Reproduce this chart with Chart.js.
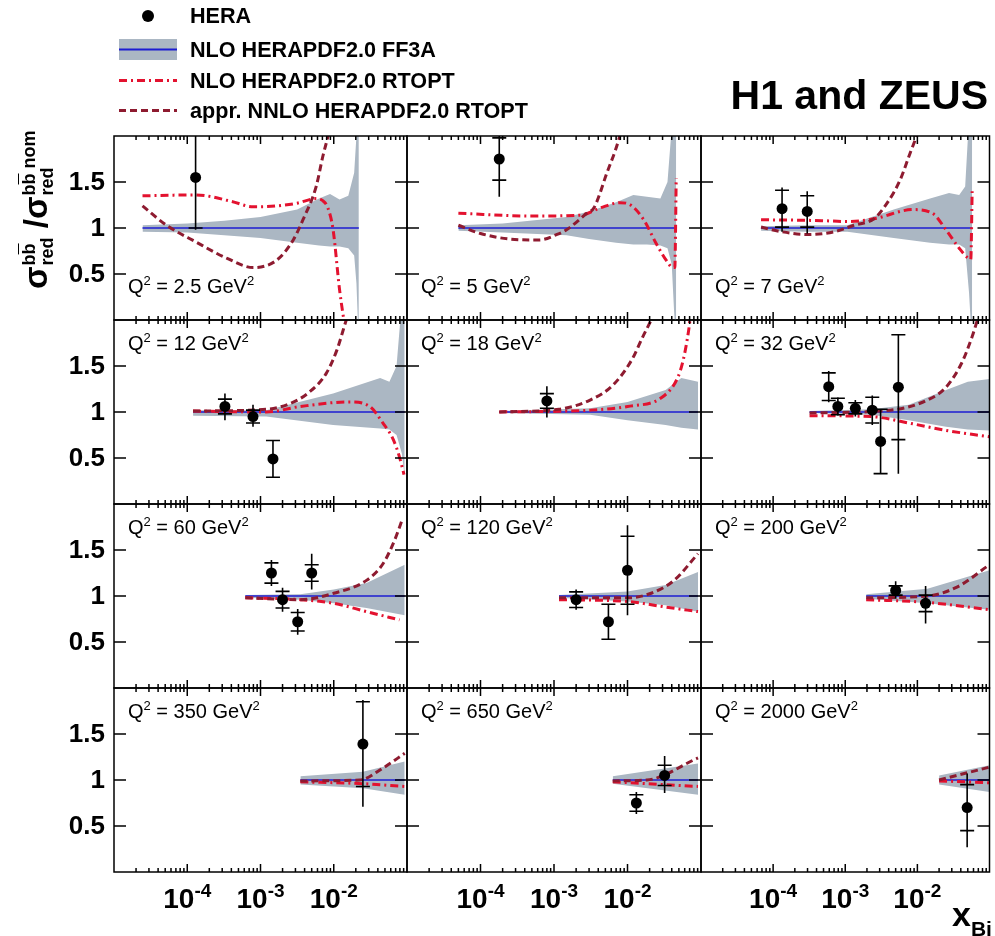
<!DOCTYPE html>
<html><head><meta charset="utf-8">
<script src="https://cdn.jsdelivr.net/npm/chart.js@4.4.0/dist/chart.umd.min.js"></script>
<style>
html,body{margin:0;padding:0;background:#fff;}
#wrap{position:relative;width:995px;height:936px;overflow:hidden;font-family:"Liberation Sans",Arial,sans-serif;color:#000;}
#wrap canvas{position:absolute;left:0;top:0;}
.leg{position:absolute;left:190px;font-weight:bold;font-size:21.6px;line-height:1;white-space:nowrap;}
#h1z{position:absolute;right:7px;top:75px;font-weight:bold;font-size:41px;line-height:1;white-space:nowrap;}
#xbj{position:absolute;left:952px;top:897px;font-weight:bold;font-size:34px;line-height:1;white-space:nowrap;}
#xbj span{font-size:21px;position:relative;top:10px;}
#ytitle{position:absolute;left:16px;top:289px;transform-origin:0 0;transform:rotate(-90deg);font-weight:bold;font-size:33px;line-height:40px;white-space:nowrap;}
#ytitle .ss{display:inline-block;vertical-align:middle;font-size:18px;line-height:18px;margin-left:1px;}
#ytitle .sp,#ytitle .sb{display:block;}
#ytitle .ob{text-decoration:overline;}
#legsym{position:absolute;left:0;top:0;}
</style></head><body>
<div id="wrap">
<svg id="legsym" width="200" height="130">
 <circle cx="148" cy="16" r="6" fill="#000"/>
 <rect x="119" y="39" width="58" height="21" fill="#abb7c3"/>
 <line x1="119" y1="49.5" x2="177" y2="49.5" stroke="#1c1cd2" stroke-width="2"/>
 <line x1="119" y1="80.5" x2="177" y2="80.5" stroke="#e3122f" stroke-width="3" stroke-dasharray="8 4 2 4"/>
 <line x1="119" y1="110.5" x2="177" y2="110.5" stroke="#8e1b30" stroke-width="3" stroke-dasharray="7 4"/>
</svg>
<div class="leg" style="top:5px">HERA</div>
<div class="leg" style="top:39px">NLO HERAPDF2.0 FF3A</div>
<div class="leg" style="top:70px">NLO HERAPDF2.0 RTOPT</div>
<div class="leg" style="top:100px">appr. NNLO HERAPDF2.0 RTOPT</div>
<div id="h1z">H1 and ZEUS</div>
<div id="ytitle">σ<span class="ss"><span class="sp">b<span class="ob">b</span></span><span class="sb">red</span></span> /σ<span class="ss"><span class="sp">b<span class="ob">b</span> nom</span><span class="sb">red</span></span></div>
<div id="xbj">x<span>Bj</span></div>
</div>
<script>
// ---------------- data ----------------
const q2Labels = ['2.5','5','7','12','18','32','60','120','200','350','650','2000'];
const xTickVals = [1e-4, 1e-3, 1e-2];
const xTickExp = ['-4', '-3', '-2'];
const yTickVals = [0.5, 1, 1.5];
const yTickLabels = ['0.5', '1', '1.5'];
const nominal = 1;

const heraX = [
 [1.3e-4],
 [1.8e-4],
 [1.33e-4, 2.97e-4],
 [3.27e-4, 7.9e-4, 1.48e-3],
 [8.0e-4],
 [5.9e-4, 7.9e-4, 1.38e-3, 2.37e-3, 3.09e-3, 5.45e-3],
 [1.41e-3, 2.0e-3, 3.22e-3, 5.0e-3],
 [2.0e-3, 5.5e-3, 1.0e-2],
 [5.0e-3, 1.3e-2],
 [2.5e-2],
 [1.32e-2, 3.2e-2],
 [4.9e-2]
];
const heraY = [
 [1.55],
 [1.75],
 [1.21, 1.18],
 [1.06, 0.95, 0.49],
 [1.12],
 [1.275, 1.06, 1.04, 1.02, 0.68, 1.27],
 [1.25, 0.96, 0.72, 1.25],
 [0.96, 0.72, 1.28],
 [1.06, 0.92],
 [1.39],
 [0.75, 1.05],
 [0.70]
];
const heraStat = [
 [0.55],
 [0.23],
 [0.2, 0.17],
 [0.08, 0.07, 0.2],
 [0.08],
 [0.15, 0.09, 0.06, 0.14, 0.35, 0.57],
 [0.11, 0.09, 0.1, 0.09],
 [0.085, 0.19, 0.37],
 [0.05, 0.09],
 [0.46],
 [0.09, 0.11],
 [0.25]
];
const heraTotUp = [
 [0.6],
 [0.42],
 [0.23, 0.22],
 [0.14, 0.13, 0.2],
 [0.16],
 [0.17, 0.1, 0.09, 0.16, 0.35, 0.57],
 [0.14, 0.13, 0.14, 0.21],
 [0.11, 0.19, 0.49],
 [0.1, 0.19],
 [0.48],
 [0.12, 0.21],
 [0.37]
];
const heraTotDn = [
 [0.57],
 [0.41],
 [0.25, 0.24],
 [0.15, 0.11, 0.2],
 [0.18],
 [0.17, 0.1, 0.09, 0.16, 0.35, 0.94],
 [0.14, 0.13, 0.14, 0.18],
 [0.11, 0.19, 0.49],
 [0.09, 0.22],
 [0.68],
 [0.12, 0.19],
 [0.43]
];

const bandX = [
 [2.45e-5, 1e-4, 3.2e-4, 1e-3, 3.16e-3, 6.3e-3, 8.9e-3, 1.2e-2, 1.58e-2, 1.9e-2, 2.04e-2, 2.12e-2, 2.2e-2],
 [5e-5, 2e-4, 1.48e-3, 3e-3, 7e-3, 1.2e-2, 1.84e-2, 2.8e-2, 3.5e-2, 4.0e-2, 4.3e-2, 4.6e-2],
 [6.8e-5, 3e-4, 1.07e-3, 4.7e-3, 1.5e-2, 2.75e-2, 3.8e-2, 4.6e-2, 5.2e-2, 5.75e-2],
 [1.2e-4, 1.2e-3, 9.8e-3, 4.3e-2, 5.75e-2, 7.2e-2, 8.5e-2, 9.3e-2],
 [1.8e-4, 3.1e-3, 1e-2, 3.3e-2, 5.4e-2, 9.1e-2],
 [3.2e-4, 2.3e-3, 7.6e-3, 2.5e-2, 5e-2, 0.1],
 [6.2e-4, 3.5e-3, 1e-2, 2.8e-2, 9.3e-2],
 [1.17e-3, 1e-2, 3.3e-2, 9.1e-2],
 [1.95e-3, 1.38e-2, 0.1],
 [3.5e-3, 2.5e-2, 9.3e-2],
 [6.3e-3, 9.1e-2],
 [2.0e-2, 0.1]
];
const bandHi = [
 [1.03, 1.05, 1.08, 1.12, 1.2, 1.32, 1.37, 1.31, 1.35, 1.6, 2.0, 2.3, 2.5],
 [1.03, 1.05, 1.12, 1.18, 1.28, 1.36, 1.34, 1.32, 1.5, 2.1, 2.5, 2.6],
 [1.02, 1.03, 1.03, 1.20, 1.32, 1.38, 1.36, 1.45, 2.2, 2.6],
 [1.02, 1.02, 1.20, 1.37, 1.33, 1.5, 2.2, 2.5],
 [1.01, 1.04, 1.11, 1.24, 1.37, 1.33],
 [1.01, 1.03, 1.08, 1.24, 1.33, 1.36],
 [1.01, 1.02, 1.07, 1.14, 1.34],
 [1.01, 1.05, 1.12, 1.26],
 [1.02, 1.08, 1.28],
 [1.04, 1.09, 1.20],
 [1.04, 1.18],
 [1.05, 1.16]
];
const bandLo = [
 [0.96, 0.95, 0.92, 0.89, 0.84, 0.81, 0.80, 0.80, 0.78, 0.7, 0.4, 0.05, -0.3],
 [0.97, 0.95, 0.92, 0.88, 0.84, 0.82, 0.82, 0.81, 0.78, 0.6, 0.1, -0.3],
 [0.97, 0.96, 0.96, 0.89, 0.84, 0.82, 0.82, 0.78, 0.3, -0.3],
 [0.96, 0.95, 0.86, 0.82, 0.81, 0.75, 0.55, 0.3],
 [0.99, 0.97, 0.91, 0.86, 0.83, 0.81],
 [0.99, 0.97, 0.91, 0.84, 0.81, 0.80],
 [0.98, 0.96, 0.92, 0.87, 0.79],
 [0.98, 0.94, 0.90, 0.83],
 [0.97, 0.92, 0.85],
 [0.95, 0.91, 0.84],
 [0.96, 0.84],
 [0.95, 0.87]
];

const rtoptX = [
 [2.45e-5, 1.3e-4, 4e-4, 7.9e-4, 1.66e-3, 3.16e-3, 5.75e-3, 7e-3, 8.3e-3, 9.8e-3, 1.2e-2, 1.35e-2, 1.5e-2],
 [5e-5, 5.2e-4, 2.3e-3, 4.3e-3, 7.9e-3, 1.1e-2, 1.66e-2, 2.5e-2, 3.5e-2, 4.1e-2, 4.4e-2, 4.6e-2],
 [6.8e-5, 4.7e-4, 1.07e-3, 2.5e-3, 8.7e-3, 1.62e-2, 2.5e-2, 3.8e-2, 5.1e-2, 5.5e-2, 5.75e-2],
 [1.2e-4, 1.2e-3, 3.5e-3, 1.66e-2, 3.1e-2, 4.7e-2, 6.5e-2, 7.9e-2, 9.1e-2],
 [1.8e-4, 3.1e-3, 1e-2, 2.95e-2, 4.8e-2, 5.75e-2, 6.8e-2, 7.2e-2],
 [3.2e-4, 2.3e-3, 7.6e-3, 2.5e-2, 0.1],
 [6.2e-4, 3.5e-3, 1e-2, 2.8e-2, 7.9e-2],
 [1.17e-3, 1e-2, 3.3e-2, 9.1e-2],
 [1.95e-3, 1.38e-2, 0.1],
 [3.5e-3, 2.5e-2, 9.3e-2],
 [6.3e-3, 9.1e-2],
 [2.0e-2, 0.1]
];
const rtoptY = [
 [1.35, 1.36, 1.29, 1.23, 1.24, 1.27, 1.32, 1.30, 1.22, 0.98, 0.33, 0.04, -0.2],
 [1.16, 1.13, 1.14, 1.22, 1.275, 1.25, 1.09, 0.82, 0.63, 0.57, 0.57, 1.54],
 [1.09, 1.08, 1.07, 1.10, 1.20, 1.16, 0.98, 0.78, 0.67, 0.66, 1.40],
 [1.01, 1.0, 1.06, 1.11, 1.06, 0.88, 0.70, 0.51, 0.32],
 [1.0, 1.02, 1.06, 1.16, 1.37, 1.57, 1.89, 2.05],
 [0.96, 0.95, 0.88, 0.80, 0.73],
 [0.98, 0.96, 0.92, 0.83, 0.74],
 [0.96, 0.94, 0.88, 0.83],
 [0.96, 0.93, 0.85],
 [0.98, 0.96, 0.93],
 [0.98, 0.93],
 [0.99, 0.97]
];

const nnloX = [
 [2.45e-5, 5.2e-5, 1.3e-4, 3.5e-4, 7.9e-4, 1.66e-3, 2.8e-3, 3.8e-3, 5.75e-3, 7.1e-3, 8.3e-3, 9.5e-3],
 [5e-5, 1e-4, 2.5e-4, 6.3e-4, 1.1e-3, 1.48e-3, 2.8e-3, 3.5e-3, 5.2e-3, 7.6e-3, 9e-3],
 [6.8e-5, 1.3e-4, 3e-4, 7.1e-4, 1.32e-3, 2.5e-3, 3.8e-3, 5.75e-3, 7.9e-3, 9.8e-3, 1.1e-2],
 [1.2e-4, 1.2e-3, 2.5e-3, 4.7e-3, 7.9e-3, 1.1e-2, 1.48e-2, 1.7e-2],
 [1.8e-4, 1.17e-3, 3.1e-3, 6.3e-3, 1.15e-2, 1.62e-2, 2.1e-2, 2.4e-2],
 [3.2e-4, 4.2e-3, 1.38e-2, 2.5e-2, 4.1e-2, 5.75e-2, 6.8e-2],
 [6.2e-4, 3.5e-3, 1e-2, 2.8e-2, 4.7e-2, 6.8e-2, 8.7e-2],
 [1.17e-3, 1e-2, 2.1e-2, 4.3e-2, 9.1e-2],
 [1.95e-3, 1.38e-2, 3.6e-2, 0.1],
 [3.5e-3, 2.26e-2, 4.7e-2, 9.3e-2],
 [6.3e-3, 1.84e-2, 9.1e-2],
 [2.0e-2, 0.1]
];
const nnloY = [
 [1.24, 1.03, 0.85, 0.67, 0.57, 0.65, 0.87, 1.09, 1.45, 1.78, 1.99, 2.2],
 [1.03, 0.94, 0.88, 0.87, 0.93, 0.98, 1.16, 1.22, 1.59, 1.96, 2.2],
 [1.01, 0.96, 0.93, 0.96, 1.03, 1.10, 1.27, 1.52, 1.81, 2.0, 2.1],
 [1.01, 1.03, 1.09, 1.22, 1.42, 1.67, 2.0, 2.15],
 [1.0, 1.03, 1.13, 1.29, 1.57, 1.82, 2.0, 2.1],
 [0.99, 1.02, 1.13, 1.27, 1.53, 1.82, 2.0],
 [0.98, 0.96, 1.03, 1.17, 1.35, 1.61, 1.84],
 [0.98, 0.98, 1.03, 1.17, 1.46],
 [0.98, 1.0, 1.10, 1.34],
 [0.99, 1.0, 1.13, 1.29],
 [0.99, 1.0, 1.24],
 [1.0, 1.14]
];

// ---------------- layout / style ----------------
const W = 995, H = 936;
const colLeft = [114, 407, 701], colRight = [407, 701, 994];
const rowTop = [136, 320, 504, 688], rowBottom = [320, 504, 688, 872];
const FONT = '"Liberation Sans", Arial, sans-serif';
const COL_BAND = '#abb7c3', COL_BLUE = '#1c1cd2', COL_RT = '#e3122f', COL_NN = '#8e1b30';

function pts(xs, ys) { return xs.map((x, j) => ({x: x, y: ys[j]})); }

function richText(ctx, parts, x, y, align) {
  let w = 0;
  parts.forEach(p => { ctx.font = p.f; p.w = ctx.measureText(p.t).width; w += p.w; });
  let cx = align === 'center' ? x - w / 2 : (align === 'right' ? x - w : x);
  ctx.textAlign = 'left'; ctx.textBaseline = 'alphabetic';
  parts.forEach(p => { ctx.font = p.f; ctx.fillText(p.t, cx, y + (p.dy || 0)); cx += p.w; });
}

const framePlugin = {
  id: 'frame',
  afterDatasetsDraw(chart, args, o) {
    const i = o.idx, r = o.row, c = o.col;
    const ctx = chart.ctx, a = chart.chartArea, xs = chart.scales.x, ys = chart.scales.y;
    // error bars
    ctx.save();
    ctx.beginPath(); ctx.rect(a.left, a.top, a.right - a.left, a.bottom - a.top); ctx.clip();
    ctx.strokeStyle = '#000'; ctx.lineWidth = 1.6;
    heraX[i].forEach((xv, j) => {
      const px = xs.getPixelForValue(xv), yv = heraY[i][j];
      ctx.beginPath();
      ctx.moveTo(px, ys.getPixelForValue(yv + heraTotUp[i][j]));
      ctx.lineTo(px, ys.getPixelForValue(yv - heraTotDn[i][j]));
      [1, -1].forEach(s => {
        const py = ys.getPixelForValue(yv + s * heraStat[i][j]);
        ctx.moveTo(px - 7, py); ctx.lineTo(px + 7, py);
      });
      ctx.stroke();
    });
    ctx.restore();
    // frame + ticks
    ctx.save();
    ctx.strokeStyle = '#000'; ctx.lineWidth = 1.5;
    ctx.strokeRect(a.left, a.top, a.right - a.left, a.bottom - a.top);
    ctx.beginPath();
    yTickVals.forEach(v => {
      const py = ys.getPixelForValue(v);
      ctx.moveTo(a.left, py); ctx.lineTo(a.left + 12, py);
      ctx.moveTo(a.right, py); ctx.lineTo(a.right - 12, py);
    });
    for (let e = -5; e < -1; e++) {
      for (let k = 1; k < 10; k++) {
        if (k === 1 && e === -5) continue;
        const px = xs.getPixelForValue(k * Math.pow(10, e));
        const len = k === 1 ? 8 : 4;
        ctx.moveTo(px, a.top); ctx.lineTo(px, a.top + len);
        ctx.moveTo(px, a.bottom); ctx.lineTo(px, a.bottom - len);
      }
    }
    ctx.stroke();
    ctx.restore();
    // texts
    ctx.save();
    ctx.fillStyle = '#000';
    const qy = r === 0 ? a.bottom - 27 : a.top + 30;
    richText(ctx, [
      {t: 'Q', f: '20px ' + FONT},
      {t: '2', f: '13px ' + FONT, dy: -8},
      {t: ' = ' + q2Labels[i] + ' GeV', f: '20px ' + FONT},
      {t: '2', f: '13px ' + FONT, dy: -8}
    ], a.left + 14, qy, 'left');
    if (c === 0) {
      ctx.font = 'bold 26px ' + FONT; ctx.textAlign = 'right'; ctx.textBaseline = 'middle';
      yTickVals.forEach((v, k) => ctx.fillText(yTickLabels[k], a.left - 9, ys.getPixelForValue(v) + 1));
    }
    if (r === 3) {
      xTickVals.forEach((v, k) => {
        richText(ctx, [
          {t: '10', f: 'bold 28px ' + FONT},
          {t: xTickExp[k], f: 'bold 19px ' + FONT, dy: -11}
        ], xs.getPixelForValue(v), 908, 'center');
      });
    }
    ctx.restore();
  }
};

const wrap = document.getElementById('wrap');
for (let i = 0; i < 12; i++) {
  const c = i % 3, r = Math.floor(i / 3);
  const cv = document.createElement('canvas');
  cv.width = W; cv.height = H; cv.style.width = W + 'px'; cv.style.height = H + 'px';
  wrap.insertBefore(cv, wrap.firstChild);
  const bx = bandX[i];
  new Chart(cv.getContext('2d'), {
    type: 'line',
    data: {
      datasets: [
        {label: 'HERA', data: pts(heraX[i], heraY[i]), showLine: false, pointRadius: 5.5,
         pointBackgroundColor: '#000', pointBorderWidth: 0, order: 0},
        {label: 'appr. NNLO HERAPDF2.0 RTOPT', data: pts(nnloX[i], nnloY[i]), borderColor: COL_NN,
         borderWidth: 3, borderDash: [7, 4], pointRadius: 0, cubicInterpolationMode: 'monotone', fill: false, order: 1},
        {label: 'NLO HERAPDF2.0 RTOPT', data: pts(rtoptX[i], rtoptY[i]), borderColor: COL_RT,
         borderWidth: 3, borderDash: [8, 4, 2, 4], pointRadius: 0, cubicInterpolationMode: 'monotone', fill: false, order: 2},
        {label: 'NLO HERAPDF2.0 FF3A', data: [{x: bx[0], y: nominal}, {x: bx[bx.length - 1], y: nominal}],
         borderColor: COL_BLUE, borderWidth: 1.6, pointRadius: 0, fill: false, order: 3},
        {label: 'band up', data: pts(bandX[i], bandHi[i]), borderWidth: 0, borderColor: 'rgba(0,0,0,0)',
         backgroundColor: COL_BAND, pointRadius: 0, fill: 5, tension: 0, order: 4},
        {label: 'band down', data: pts(bandX[i], bandLo[i]), borderWidth: 0, borderColor: 'rgba(0,0,0,0)',
         pointRadius: 0, fill: false, tension: 0, order: 5}
      ]
    },
    options: {
      responsive: false, animation: false, devicePixelRatio: 1, events: [],
      layout: {padding: {left: colLeft[c], top: rowTop[r], right: W - colRight[c], bottom: H - rowBottom[r]}},
      plugins: {legend: {display: false}, tooltip: {enabled: false}, frame: {idx: i, row: r, col: c}},
      scales: {
        x: {type: 'logarithmic', min: 1e-5, max: 0.1, display: false},
        y: {type: 'linear', min: 0, max: 2, display: false}
      }
    },
    plugins: [framePlugin]
  });
}
</script>
</body></html>
